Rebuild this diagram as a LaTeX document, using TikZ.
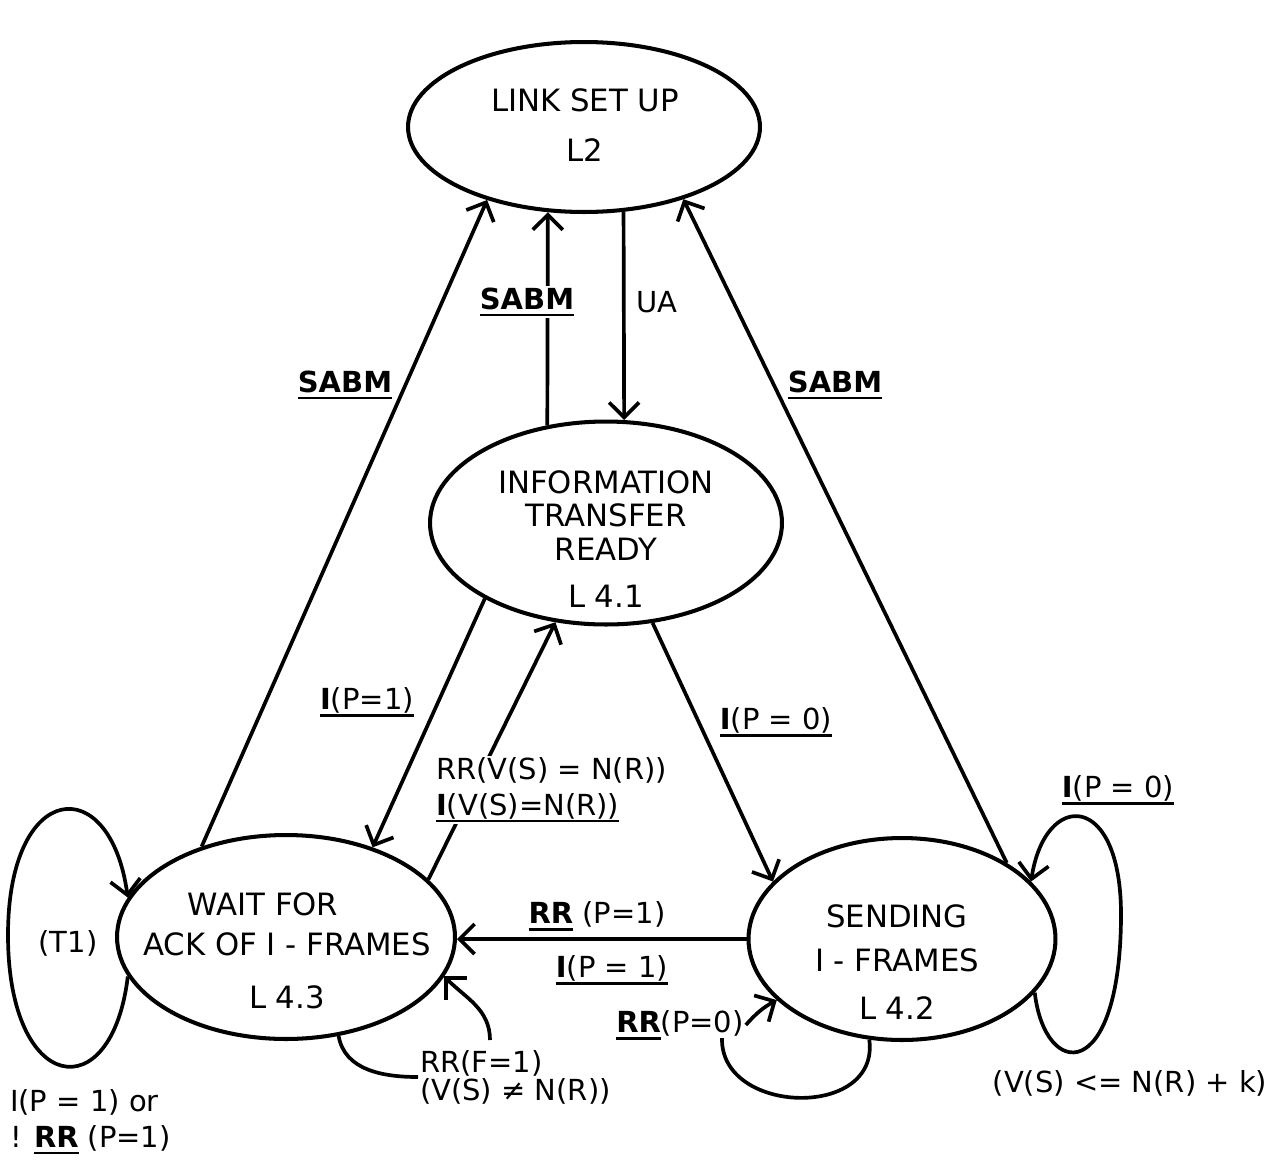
\documentclass[tikz,border=0pt]{standalone}
\usepackage{fontspec}
\setmainfont{DejaVu Sans}
\usetikzlibrary{arrows.meta,positioning,shapes.geometric}
\newcommand{\bI}{\textbf{I}}
\newcommand{\ulined}[1]{\leavevmode\setbox0\hbox{#1}\rlap{\vrule height -2.8pt depth 4pt width \wd0}\box0\relax}
\tikzset{
    statenode/.style={ellipse,draw,line width=2.3pt,inner sep=0pt},
    statetext/.style={align=center,font=\fontsize{17.5}{20}\selectfont},
    edgelabel/.style={font=\fontsize{16.5}{20}\selectfont,inner sep=1pt},
    edgeline/.style={-{Straight Barb[length=3mm,width=6mm]},line width=2.1pt},
    plainline/.style={line width=2.1pt}
}
\begin{document}
\begin{tikzpicture}[x=0.02cm,y=-0.02cm]
    \useasboundingbox (0,0) rectangle (1278,1163);
    \node[statenode,minimum width=7.04cm,minimum height=3.4cm] (link) at (584,127) {};
    \node[statenode,minimum width=7.04cm,minimum height=4.06cm] (info) at (606,523) {};
    \node[statenode,minimum width=6.76cm,minimum height=4.08cm] (wait) at (286,937) {};
    \node[statenode,minimum width=6.14cm,minimum height=4.04cm] (send) at (902,939) {};
    \node[statetext] (linktext) at (585,125) {LINK SET UP\\[0.3cm]L2};
    \node[statetext] (infotext) at (606,539) {INFORMATION\\[-1pt]TRANSFER\\[-1pt]READY\\[0.24cm]L 4.1};
    \node[statetext] (waittext) at (287,951) {WAIT FOR\hspace*{0.96cm}\\[0.1cm]ACK OF I - FRAMES\\[0.36cm]L 4.3};
    \node[statetext] (sendtext) at (897,962) {SENDING\\[0.18cm]I - FRAMES\\[0.26cm]L 4.2};
    \draw[edgeline] (wait.133) -- (link.217);
    \draw[edgeline] (info.121) -- (link.247);
    \draw[edgeline] (link.-65) -- (info.80);
    \draw[edgeline] (send.36) -- (link.-36);
    \draw[edgeline] (info.212) -- (wait.46);
    \draw[edgeline] (wait.22) -- (info.243);
    \draw[edgeline] (info.-65) -- (send.156);
    \draw[edgeline] (send.west) -- (wait.east |- send.west);
    \draw[edgeline] (wait.194) .. controls (112,1110) and (8,1095) .. (8,935) .. controls (8,780) and (110,770) .. (wait.166);
    \draw[edgeline] (send.-22) .. controls (1045,1080) and (1120,1085) .. (1121,917) .. controls (1122,790) and (1045,790) .. (send.24);
    \node[edgelabel] (sabmleft) at (345,385) {\ulined{\textbf{SABM}}};
    \node[edgelabel,fill=white] (sabmmid) at (527,302) {\ulined{\textbf{SABM}}};
    \node[edgelabel] (ualbl) at (657,302) {UA};
    \node[edgelabel] (sabmright) at (835,385) {\ulined{\textbf{SABM}}};
    \node[edgelabel] (ipone) at (367,702) {\ulined{\bI(P=1)}};
    \node[edgelabel,fill=white,align=left,anchor=west] (rrvs) at (434,790) {RR(V(S) = N(R))\\\ulined{\bI(V(S)=N(R))}};
    \node[edgelabel] (ipzero) at (776,722) {\ulined{\bI(P = 0)}};
    \node[edgelabel] (rrpone) at (597,916) {\ulined{\textbf{RR}} (P=1)};
    \node[edgelabel] (ipback) at (612,970) {\ulined{\bI(P = 1)}};
    \node[edgelabel] (rrpzero) at (680,1025) {\ulined{\textbf{RR}}(P=0)};
    \node[edgelabel,align=left,anchor=west] (rrfone) at (418,1077) {RR(F=1)\\[-4pt](V(S) ≠ N(R))};
    \node[edgelabel] (tone) at (68,943) {(T1)};
    \node[edgelabel,align=left,anchor=west] (tonelbl) at (8,1122) {I(P = 1) or\\! \ulined{\textbf{RR}} (P=1)};
    \node[edgelabel] (ipsend) at (1118,790) {\ulined{\bI(P = 0)}};
    \node[edgelabel] (vsnr) at (1130,1083) {(V(S) <= N(R) + k)};
    \coordinate (ackup) at (490,1040);
    \coordinate (sendloopend) at (722,1038);
    \draw[plainline] (wait.-62) to[out=-80,in=180] (rrfone.west);
    \draw[edgeline] (ackup) to[out=90,in=-45] (wait.-14);
    \draw[plainline] (send.252) .. controls (880,1120) and (720,1115) .. (sendloopend);
    \draw[edgeline] (rrpzero.east) to[bend left=10] (send.206);
\end{tikzpicture}
\end{document}
